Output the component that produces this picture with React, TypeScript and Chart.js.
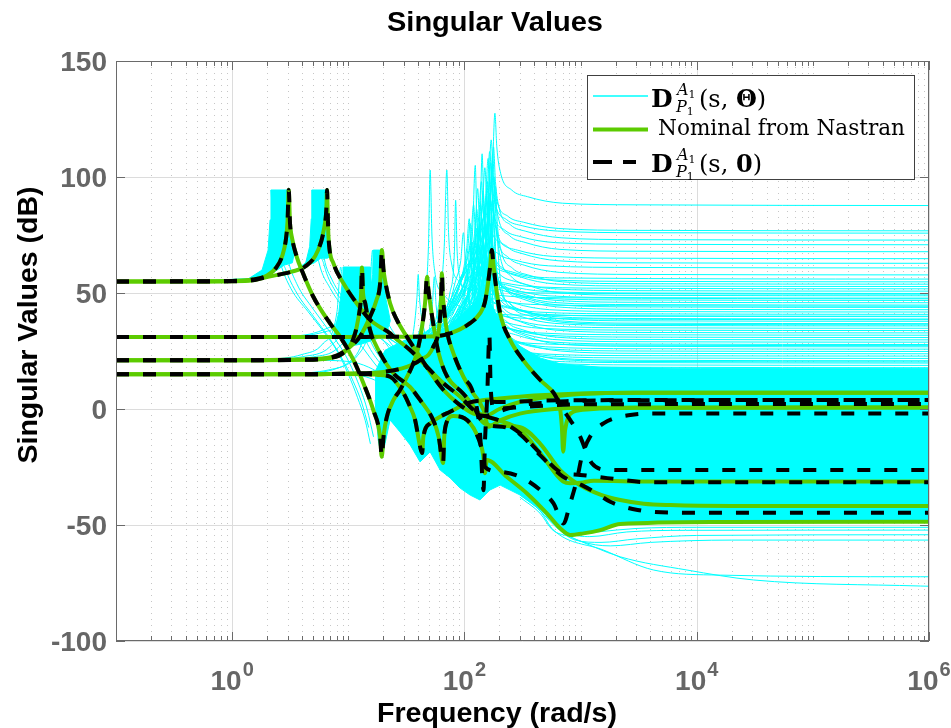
import React, { useEffect, useRef } from "react";
import { Chart, registerables } from "chart.js";

Chart.register(...registerables);

type Pt = [number, number];

// ---------------- axes, ticks, texts ----------------
const X_MIN = 0.1;
const X_MAX = 1e6;
const Y_MIN = -100;
const Y_MAX = 150;
const X_MAJOR_VALUES = [1, 100, 10000, 1000000];
const X_MAJOR_EXPONENTS = ["0", "2", "4", "6"];
const Y_TICK_VALUES = [-100, -50, 0, 50, 100, 150];
const Y_TICK_LABELS = ["-100", "-50", "0", "50", "100", "150"];
const TITLE = "Singular Values";
const X_TITLE = "Frequency (rad/s)";
const Y_TITLE = "Singular Values (dB)";
const LEGEND_NOMINAL = "Nominal from Nastran";

const X_MINOR_VALUES: number[] = [];
for (let e = -1; e <= 5; e++) {
  for (let m = 1; m <= 9; m++) {
    const v = m * Math.pow(10, e);
    if (v > X_MIN * 1.0001 && !X_MAJOR_VALUES.some((t) => Math.abs(t - v) / t < 1e-9)) X_MINOR_VALUES.push(v);
  }
}

// ---------------- nominal (green) and dashed (black) curves ----------------
const MODE1_LOW: Pt[] = [[0.1,55],[0.5,55],[1,55.2],[1.5,55.8],[2,57.5],[2.4,61],[2.7,66],[2.9,73],[3.0,81],[3.07,94.4],[3.15,80],[3.26,74.3],[3.6,65.6],[3.97,59.9],[5.0,48.4],[6.97,36.9],[8.5,31.2],[11.1,21.1],[13.5,11.1],[16.4,-0.4],[18.8,-12],[19.4,-20.6],[20.2,-11],[21.5,-3.3],[24.5,3.9],[27.9,8.2],[31,12.5],[35.3,18.2],[38.9,24],[43.2,35.5],[45.8,45.6],[47.7,57],[48.8,52],[50.7,45.6],[55,34],[60,24],[71,14],[97,6.8],[120,1],[140,-5]];
const MODE1_GREEN: Pt[] = [[165,-7],[230,-7.3],[302,-7.8],[450,-15],[667,-26.3],[1000,-33],[1500,-37],[2195,-39.2],[3500,-40.8],[5916,-41.4],[20000,-41.8],[1e6,-41.8]];
const MODE1_DASH: Pt[] = [[165,-7],[230,-8],[302,-11],[450,-20],[700,-29],[1026,-32.8],[1380,-36.4],[1800,-40],[2344,-42.1],[3100,-43.5],[4000,-44.3],[8000,-44.7],[1e6,-44.7]];

const MODE2_LOW: Pt[] = [[0.1,55],[1,55.1],[1.5,55.5],[2.04,57],[3.26,59.2],[4.22,61.3],[5.5,68.5],[6.2,78],[6.47,86],[6.56,94.4],[6.65,85],[6.75,74.3],[7.45,62.8],[9.08,54.2],[11.8,45.6],[15.4,38.4],[22.9,32.6],[24.5,31.2],[34,25.4],[47.4,18.2],[66,11.1],[92,5.3],[120,-0.4],[150,-3]];
const MODE2_GREEN: Pt[] = [[200,-5],[302,-9],[449,-19],[640,-29.2],[708,-31.3],[813,-32],[1000,-31.8],[1300,-30.9],[4000,-31.3],[1e6,-31.3]];
const MODE2_DASH: Pt[] = [[200,-5],[302,-10.5],[449,-19.1],[629,-26.3],[708,-27.7],[992,-28.4],[1700,-29.8],[4000,-31.6],[1e6,-31.6]];

const MODE3_LOW: Pt[] = [[0.1,31],[1,31],[5,31],[20,31.1],[50.7,31.2],[75.3,32.6],[112,37],[136,41.2],[150,46],[161,55.6],[167,62],[172,68.5],[178,62],[184,55.6],[203,41.2],[248,29.7],[320,21.1],[449,12.5],[585,7]];
const MODE3_GREEN: Pt[] = [[655,2.5],[690,-7.6],[708,-18.4],[736,-9],[787,-3.3],[869,-1.2],[1210,-0.1],[3000,0.5],[1e6,0.6]];
const MODE3_DASH: Pt[] = [[700,0],[813,-4.7],[992,-11.9],[1132,-19.1],[1250,-23.4],[1683,-26.2],[3000,-26.3],[1e6,-26.3]];

const MODE4_LOW: Pt[] = [[0.1,21],[1,21],[4,21.3],[7.45,22.5],[10.4,26.8],[12.6,31.2],[15.4,39.8],[17.5,47],[18.8,54.2],[19.5,68.5],[20.1,60],[20.7,55.6],[22.9,45.6],[26.2,38.4],[31.9,31.2],[41.5,22.5],[54,13.9],[66,8.2],[90,2],[120,-2],[150,-3]];
const MODE4_GREEN: Pt[] = [[200,0],[300,3],[600,5.5],[1000,6.5],[3000,7],[1e6,7]];
const MODE4_DASH: Pt[] = [[200,-1],[300,1.5],[600,3],[1000,3.6],[1e6,3.9]];

const MODE5_LOW: Pt[] = [[0.1,15],[1,15],[5,15],[10,15.3],[20,16],[31.9,18.2],[41.5,21.1],[54,26.9],[61.5,38.4],[63,48],[64,58.5],[65,50],[66,45.6],[70.5,34],[80.4,24],[98,13.9],[119,6.8]];
const MODE5_GREEN: Pt[] = [[146,-0.4],[161,-7.6],[200,-5],[300,-2],[600,0],[1000,0.5],[1e6,0.6]];
const MODE5_DASH: Pt[] = [[136,-10],[146,-35],[150,-15],[157,5],[164,32],[168,10],[180,0],[250,0.5],[500,1.5],[1000,2],[1e6,2.2]];

const MODE6_LOW: Pt[] = [[0.1,15],[1,15],[5,15],[10,15.1],[15,15],[18,14.7],[22.9,13.9],[29.9,6.8],[34,1],[37.6,-4.7],[41.5,-16.2],[43.2,-19],[44.3,-12],[50.7,-6.2],[61.8,-3.3],[75.3,-1.2],[105,2.4],[136,3.6]];
const MODE6_GREEN: Pt[] = [[200,4.5],[400,5.8],[1000,6.7],[3000,7],[1e6,7]];
const MODE6_DASH: Pt[] = [[200,3],[400,3.5],[1000,3.8],[1e6,3.9]];

const MODE7_LOW: Pt[] = [[0.1,21],[1,21],[4,21.2],[7,22],[9,24],[11,30],[12.3,40],[12.9,50],[13.1,61],[13.4,50],[13.97,45.7],[15.4,34],[18.8,24.1],[24.3,15.5],[34,9.5],[41.5,3.9],[53.7,-4.7],[60,-12],[65.5,-23.3],[67,-12],[70,-6],[80,-3],[100,-4],[125,-10],[145,-20]];
const MODE7_GREEN: Pt[] = [[150,-27.7],[156,-22],[231,-29.2],[344,-36.3],[513,-45],[667,-51.4],[813,-54.3],[1059,-53.6],[1476,-52.2],[2195,-49.6],[15850,-48.7],[1e6,-48.6]];
const MODE7_DASH: Pt[] = [[150,-25],[200,-27],[302,-29.2],[449,-34.9],[585,-40.7],[713,-49.3],[813,-40.7],[929,-30.6],[1026,-20.5],[1210,-11.9],[1575,-6.2],[2675,-2.6],[4850,-1.9],[1e6,-1.9]];

// ---------------- uncertain (cyan) family ----------------
const CYAN_AREA_PEAK1: Pt[] = [[1.29,55.2],[1.81,59.9],[2.04,68.5],[2.12,81.5],[2.16,94.4],[3.07,94.4],[3.2,80],[3.45,68],[3.3,63],[2.8,62],[2.3,59],[1.92,56.5],[1.29,55.2]];
const CYAN_AREA_PEAK2: Pt[] = [[3.5,59.8],[4.3,63],[4.65,70],[4.8,82],[4.85,94.4],[6.56,94.4],[6.8,76],[7.2,66],[6.6,65],[5.8,65],[5.1,63],[4.3,61.5],[3.5,59.8]];
const CYAN_AREA_PEAK34: Pt[] = [[7.5,32],[8.3,42],[8.9,55],[9.0,61.2],[15.4,61.2],[15.6,52],[16.2,58],[16.4,68.5],[19.5,68.5],[19.9,58],[21,48],[23,38],[21,32],[17,30],[13,28],[10,27],[7.5,32]];
const CYAN_AREA_MASS: Pt[] = [[17,15.9],[20.7,25.3],[25.3,27.6],[30.8,29.7],[41.5,31],[56,33],[75.3,36],[101,42],[136,48],[166,46],[203,38],[248,31],[302,27],[449,22],[667,19.5],[1476,18],[10700,17.5],[1e6,17.5],[1e6,-48.7],[15900,-48.7],[2195,-49.6],[1052,-53.4],[813,-54.3],[667,-51.3],[449,-43.5],[302,-37.1],[203,-32.8],[166,-34.9],[136,-39.2],[112,-37.1],[91.8,-34.1],[75.3,-29.7],[61.8,-26.3],[50.7,-18.5],[41.5,-22.8],[34.1,-15.5],[27.9,-9.9],[22.9,-4.7],[19.5,-21.1],[18.1,-13.4],[17,3.9]];

const CYAN_V1: Pt[] = [[0.1,21],[2,21.2],[5,22.5],[8,26],[10,33],[11.3,45],[11.8,61.2],[12.3,48],[13.5,38],[16,28],[22,18],[30,10],[40,2],[55,-8]];
const CYAN_V2: Pt[] = [[0.1,21],[2,21.3],[4,22.5],[7,27],[9,36],[10.1,50],[10.5,61.2],[11,48],[12.5,36],[15,27],[20,18],[28,9],[38,0],[45,-10]];
const CYAN_V3: Pt[] = [[0.1,21],[2,21.5],[4,23.5],[6,28],[8,42],[8.6,61.2],[9.2,46],[11,33],[14,25],[20,15],[30,5],[40,-5]];
const CYAN_V4: Pt[] = [[0.1,15],[3,15.3],[7,17],[10,20],[13,28],[15,42],[16.2,68.5],[17,52],[19,42],[23,33],[30,25],[40,17],[55,8],[70,0]];
const CYAN_V5: Pt[] = [[0.1,15],[4,15.5],[8,17.5],[12,23],[15,33],[17,50],[17.6,68.5],[18.5,52],[21,40],[26,31],[34,22],[45,14],[60,6]];
const CYAN_V6: Pt[] = [[0.1,31],[3,31.3],[6,33],[9,37],[12,46],[13.6,61.2],[14.5,50],[17,40],[22,30],[30,22],[45,12],[60,4]];
const CYAN_V7: Pt[] = [[0.1,31],[3,31.4],[6,34],[9,40],[11.5,52],[12.4,61.2],[13.3,50],[16,38],[22,27],[32,18],[45,8]];
const CYAN_V8: Pt[] = [[0.1,15],[10,15.5],[20,17.5],[30,22],[36,32],[39,48],[40,58],[41,48],[45,34],[52,24],[65,14],[85,6],[110,-2]];
const CYAN_V9: Pt[] = [[0.1,15],[10,15.3],[20,17],[35,21],[48,30],[53,45],[55,57],[57,45],[62,32],[72,22],[90,12],[120,3]];
const CYAN_V10: Pt[] = [[0.1,21],[5,21],[10,20.5],[15,18],[20,14],[25,8],[30,1],[35,-8],[38,-18]];
const CYAN_V11: Pt[] = [[0.1,15],[10,14.8],[16,13],[20,10],[25,5],[30,0],[34,-6],[36.5,-16],[37.5,-8],[42,-3],[55,0],[80,2]];
const CYAN_V12: Pt[] = [[4.9,94.4],[5.1,75],[5.6,63],[7,52],[9,44],[12,38],[16,33],[22,28],[30,22],[45,14],[60,8]];
const CYAN_V13: Pt[] = [[2.16,94.4],[2.3,75],[2.6,63],[3.2,52],[4.5,42],[6,34],[8,25],[10,15],[12,5],[14,-5],[15.5,-15]];
const CYAN_V14: Pt[] = [[2.6,94.4],[2.75,76],[3.0,65],[3.6,54],[5,43],[7,33],[9.5,23],[12,12],[14.5,0],[16.5,-12]];
const CYAN_V15: Pt[] = [[5.6,94.4],[5.8,76],[6.2,65],[7.2,56],[9,48],[12,40],[17,34],[25,29],[40,20],[60,10]];
const CYAN_V16: Pt[] = [[0.1,55],[1,55.3],[1.6,56.5],[2.0,60],[2.2,68],[2.35,94.4],[2.5,72],[2.9,60],[3.6,50],[5,40],[7,30],[9,21],[11,12],[13,3],[15,-8]];
const CYAN_V17: Pt[] = [[0.1,55],[2,56.8],[3.5,60],[4.6,66],[5.1,76],[5.3,94.4],[5.5,76],[6.2,62],[7.5,52],[10,44],[14,37],[20,32],[30,26],[45,18]];

const CYAN_R1: Pt[] = [[30,28],[60,34],[100,59],[155,79],[174,103],[183,127.5],[190,113],[205,101.6],[255,94.4],[350,91.5],[700,88.7],[3000,88],[1e6,87.7]];
const CYAN_R2: Pt[] = [[30,28],[60,34],[100,54],[145,72],[161,94],[170,116],[177,101],[190,90],[238,83],[323,80.5],[650,77.8],[3000,77],[1e6,76.8]];
const CYAN_R3: Pt[] = [[30,28],[60,36],[100,58],[140,73],[157,92],[165,111],[172,98],[185,88],[231,81.6],[314,79],[630,76.7],[3000,76],[1e6,75.8]];
const CYAN_R4: Pt[] = [[30,25],[60,31],[100,51],[151,69],[169,91],[178,113],[185,98],[199,86.6],[249,79.4],[338,76.6],[680,73.8],[3000,73],[1e6,72.8]];
const CYAN_R5: Pt[] = [[30,28],[60,38],[100,60],[136,74],[152,91],[160,108],[166,94],[179,83.6],[224,77],[304,74.3],[610,71.7],[3000,71],[1e6,70.8]];
const CYAN_R6: Pt[] = [[30,28],[60,34],[100,54],[149,70],[166,90],[175,110],[182,94],[196,82.3],[245,74.7],[333,71.8],[665,68.8],[3000,68],[1e6,67.8]];
const CYAN_R7: Pt[] = [[30,28],[60,37],[100,58],[128,70],[143,87],[150,104],[156,89],[168,78.3],[210,71.2],[285,68.5],[570,65.8],[3000,65],[1e6,64.8]];
const CYAN_R8: Pt[] = [[30,22],[60,28],[100,47],[143,64],[160,85],[168,106],[175,90],[188,77.6],[235,69.9],[319,66.9],[640,63.9],[3000,63],[1e6,62.8]];
const CYAN_R9: Pt[] = [[30,28],[60,38],[100,60],[119,68],[133,83],[140,98],[146,84],[157,73.6],[196,66.9],[266,64.3],[532,61.7],[3000,61],[1e6,60.8]];
const CYAN_R10: Pt[] = [[30,28],[60,34],[100,50],[146,66],[163,84],[172,103],[179,86],[193,73.3],[241,65.2],[327,62],[654,58.9],[3000,58],[1e6,57.8]];
const CYAN_R11: Pt[] = [[30,28],[60,35],[90,48],[110,62],[124,79],[130,95],[135,80],[146,68.6],[182,61.4],[247,58.6],[494,55.8],[3000,55],[1e6,54.8]];
const CYAN_R12: Pt[] = [[30,25],[60,31],[100,46],[134,62],[150,80],[158,98],[164,81],[177,68.3],[221,60.2],[300,57],[600,53.9],[3000,53],[1e6,52.8]];
const CYAN_R13: Pt[] = [[30,28],[60,36],[100,52],[123,63],[138,79],[145,94],[151,78],[162,65.6],[203,57.9],[276,54.9],[551,51.9],[3000,51],[1e6,50.8]];
const CYAN_R14: Pt[] = [[30,20],[60,26],[100,42],[153,60],[171,80],[180,100],[187,81],[202,66.3],[252,57.2],[342,53.6],[684,50],[3000,49],[1e6,48.8]];
const CYAN_R15: Pt[] = [[30,28],[60,38],[85,50],[102,61],[114,75],[120,88],[125,72.4],[134,61],[168,53.6],[228,50.7],[456,47.8],[3000,47],[1e6,46.8]];
const CYAN_R16: Pt[] = [[30,27],[60,33],[100,47],[132,60],[147,76],[155,92],[161,74],[174,61],[217,52.5],[295,49.2],[589,45.9],[3000,45],[1e6,44.8]];
const CYAN_R17: Pt[] = [[30,22],[60,28],[100,43],[140,58],[157,76],[165,93],[172,74],[185,60],[231,51],[314,47.5],[627,44],[3000,43],[1e6,42.8]];
const CYAN_R18: Pt[] = [[30,28],[60,37],[80,45],[94,56],[104.5,69],[110,82],[114,66.4],[123,55],[154,47.6],[209,44.7],[418,41.8],[3000,41],[1e6,40.8]];
const CYAN_R19: Pt[] = [[30,25],[60,31],[100,44],[126,56],[141,71],[148,86],[154,68],[166,55],[207,46.5],[281,43.2],[562,39.9],[3000,39],[1e6,38.8]];
const CYAN_R20: Pt[] = [[30,20],[60,26],[100,40],[149,55],[166,73],[175,90],[182,70],[196,55],[245,45.5],[333,41.8],[665,38],[3000,37],[1e6,36.8]];
const CYAN_R21: Pt[] = [[30,28],[60,34],[95,44],[115,54],[128,67],[135,80],[140,63],[151,50.3],[189,42.2],[257,39],[513,35.9],[3000,35],[1e6,34.8]];
const CYAN_R22: Pt[] = [[30,22],[60,28],[100,40],[136,52],[152,68],[160,84],[166,64.6],[179,50.3],[224,41.2],[304,37.6],[608,34],[3000,33],[1e6,32.8]];
const CYAN_R23: Pt[] = [[30,25],[60,31],[90,39],[106,49],[119,61],[125,75],[130,58],[140,46],[175,38],[238,35],[475,31.9],[3000,31],[1e6,30.8]];
const CYAN_R24: Pt[] = [[30,20],[60,26],[100,37],[128,48],[143,63],[150,78],[156,59.4],[168,45.7],[210,36.8],[285,33.4],[570,30],[3000,29],[1e6,28.8]];
const CYAN_R25: Pt[] = [[30,18],[60,24],[100,35],[145,48],[161,64],[170,80],[177,60],[190,45],[238,35.5],[323,31.8],[646,28],[3000,27],[1e6,26.8]];
const CYAN_R26: Pt[] = [[30,22],[60,28],[100,36],[119,45],[133,58],[140,70],[146,53],[157,40.3],[196,32.2],[266,29],[532,25.9],[3000,25],[1e6,24.8]];
const CYAN_R27: Pt[] = [[30,25],[60,31],[85,37],[100,45],[112,55],[118,65],[123,49],[132,37.3],[165,29.7],[224,26.8],[448,23.8],[3000,23],[1e6,22.8]];
const CYAN_R28: Pt[] = [[30,15],[60,21],[100,31],[132,41],[147,55],[155,68],[161,50],[174,37],[217,28.5],[295,25.2],[589,22],[3000,21],[1e6,20.8]];
const CYAN_R29: Pt[] = [[30,20],[60,26],[90,32],[110,40],[124,51],[130,62],[135,45.7],[146,33.6],[182,25.9],[247,22.9],[494,19.9],[3000,19],[1e6,18.8]];
const CYAN_R30: Pt[] = [[30,12],[60,18],[100,27],[138,38],[154,51],[162,64],[168,46],[181,33],[227,24.5],[308,21.2],[616,18],[3000,17],[1e6,16.8]];
const CYAN_R31: Pt[] = [[30,15],[60,21],[100,29],[123,36],[138,47],[145,58],[151,41.7],[162,29.6],[203,21.9],[276,18.9],[551,16],[3000,15],[1e6,14.8]];
const CYAN_R32: Pt[] = [[30,18],[60,24],[80,29],[92,35],[103,44],[108,52],[112,37.2],[121,26.3],[151,19.2],[205,16.5],[410,13.8],[3000,13],[1e6,12.8]];
const CYAN_E1: Pt[] = [[30,24],[60,30],[100,44],[117,55],[131,72],[138,88],[144,72.8],[155,61.6],[193,54.4],[262,51.6],[524,48.8],[3000,48],[1e6,47.8]];
const CYAN_E2: Pt[] = [[30,20],[60,26],[100,40],[143,55],[160,74],[168,90],[175,72.5],[188,59.6],[235,51.4],[319,48.1],[638,44.9],[3000,44],[1e6,43.8]];
const CYAN_E3: Pt[] = [[30,26],[60,32],[90,41],[109,50],[122,63],[128,78],[133,63.6],[143,52.9],[179,46.1],[243,43.4],[486,40.8],[3000,40],[1e6,39.8]];
const CYAN_E4: Pt[] = [[30,18],[60,24],[100,36],[134,48],[150,64],[158,80],[164,63.3],[177,51],[221,43],[300,40],[600,36.9],[3000,36],[1e6,35.8]];
const CYAN_E5: Pt[] = [[30,26],[60,31],[85,38],[95,45],[106,56],[112,70],[116,55.6],[125,45],[157,38.1],[213,35.4],[426,32.8],[3000,32],[1e6,31.8]];
const CYAN_E6: Pt[] = [[30,16],[60,22],[100,32],[123,42],[138,57],[145,72],[151,55.3],[162,43],[203,35],[276,32],[551,28.9],[3000,28],[1e6,27.8]];
const CYAN_E7: Pt[] = [[30,14],[60,20],[100,30],[150,42],[167,56],[176,70],[183,52.5],[197,39.6],[246,31.4],[334,28.1],[669,25],[3000,24],[1e6,23.8]];
const CYAN_E8: Pt[] = [[30,18],[60,23],[90,30],[104,38],[116,48],[122,60],[127,44.8],[137,33.6],[171,26.4],[232,23.6],[464,20.8],[3000,20],[1e6,19.8]];
const CYAN_E9: Pt[] = [[30,12],[60,18],[100,26],[128,34],[143,46],[150,60],[156,43.3],[168,31],[210,23],[285,20],[570,16.9],[3000,16],[1e6,15.8]];
const CYAN_E10: Pt[] = [[30,10],[60,16],[95,23],[115,30],[128,40],[135,52],[140,36.8],[151,25.6],[189,18.4],[257,15.6],[513,12.8],[3000,12],[1e6,11.8]];
const CYAN_E11: Pt[] = [[30,8],[60,14],[100,22],[146,32],[163,43],[172,55],[179,38.3],[193,26],[241,18],[327,15],[654,11.9],[3000,11],[1e6,10.8]];
const CYAN_F1: Pt[] = [[30,20],[60,26],[111,42.8],[157,61.8],[176,77],[185,96],[192,80],[207,68.3],[259,60.7],[352,57.8],[703,54.8],[3000,54],[1e6,53.8]];
const CYAN_F2: Pt[] = [[30,26],[60,32],[77,44],[109,59],[122,71],[128,86],[133,72.3],[143,62.2],[179,55.8],[243,53.2],[486,50.7],[3000,50],[1e6,49.8]];
const CYAN_F3: Pt[] = [[30,22],[60,28],[97,41.8],[138,58.3],[154,71.5],[162,88],[168,72],[181,60.3],[227,52.7],[308,49.8],[616,46.8],[3000,46],[1e6,45.8]];
const CYAN_F4: Pt[] = [[30,24],[60,30],[85,41.4],[121,55.9],[135,67.5],[142,82],[148,66.8],[159,55.6],[199,48.4],[270,45.6],[540,42.8],[3000,42],[1e6,41.8]];
const CYAN_F5: Pt[] = [[30,18],[60,24],[107,37.8],[151,54.3],[169,67.5],[178,84],[185,66.5],[199,53.6],[249,45.4],[338,42.1],[676,38.9],[3000,38],[1e6,37.8]];
const CYAN_F6: Pt[] = [[30,26],[60,32],[71,39.8],[100,51.3],[112,60.5],[118,72],[123,57.6],[132,46.9],[165,40.1],[224,37.4],[448,34.8],[3000,34],[1e6,33.8]];
const CYAN_F7: Pt[] = [[30,16],[60,22],[101,34],[143,49],[160,61],[168,76],[175,58.5],[188,45.6],[235,37.4],[319,34.1],[638,30.9],[3000,30],[1e6,29.8]];
const CYAN_F8: Pt[] = [[30,20],[60,26],[79,33.8],[112,45.3],[125,54.5],[132,66],[137,50.8],[148,39.6],[185,32.4],[251,29.6],[502,26.8],[3000,26],[1e6,25.8]];
const CYAN_F9: Pt[] = [[30,14],[60,20],[89,29],[126,41.5],[141,51.5],[148,64],[154,48],[166,36.3],[207,28.7],[281,25.8],[562,22.8],[3000,22],[1e6,21.8]];
const CYAN_F10: Pt[] = [[30,18],[60,24],[69,29.4],[98,38.9],[109,46.5],[115,56],[120,41.6],[129,30.9],[161,24.1],[219,21.4],[437,18.8],[3000,18],[1e6,17.8]];
const CYAN_F11: Pt[] = [[30,10],[60,16],[102,24.4],[145,36.4],[162,46],[170,58],[177,41.3],[190,29],[238,21],[323,18],[646,14.9],[3000,14],[1e6,13.8]];
const CYAN_F12: Pt[] = [[30,28],[60,34],[70,40],[95,56.6],[106,67],[112,80],[116,69.4],[125,61.5],[157,56.5],[213,54.5],[426,52.6],[3000,52],[1e6,51.8]];
const CYAN_F13: Pt[] = [[30,15],[60,21],[114,33.9],[162,49.7],[181,62.2],[190,78],[198,62.2],[213,50.6],[266,43.1],[361,40.2],[722,37.3],[3000,36.5],[1e6,36.3]];
const CYAN_F14: Pt[] = [[30,24],[60,30],[89,43.8],[100,51],[105,60],[109,47.7],[118,38.5],[147,32.7],[200,30.4],[399,28.2],[3000,27.5],[1e6,27.3]];
const CYAN_F15: Pt[] = [[30,10],[60,16],[109,25.6],[155,38.6],[173,49],[182,62],[189,46.2],[204,34.6],[255,27.1],[346,24.2],[692,21.3],[3000,20.5],[1e6,20.3]];
const CYAN_F16: Pt[] = [[30,28],[60,34],[70,40],[83,54.4],[93,64],[98,76],[102,64],[110,55.2],[137,49.5],[186,47.3],[372,45.1],[3000,44.5],[1e6,44.3]];
const CYAN_S1: Pt[] = [[20,22],[35,28],[45,45],[49,70],[50.7,103],[52.5,75],[56,58],[65,50],[85,45],[130,42],[300,40.5],[1e6,40]];
const CYAN_S2: Pt[] = [[25,20],[45,28],[60,45],[67,70],[70.5,103],[73,76],[78,62],[90,55],[120,51],[200,49],[500,48],[1e6,47.5]];
const CYAN_S3: Pt[] = [[30,26],[55,34],[75,50],[82,68],[84,90],[86.5,68],[92,56],[110,47],[160,42],[400,39],[1e6,38.5]];
const CYAN_S4: Pt[] = [[30,28],[70,40],[100,55],[117,75],[124,105],[128,80],[136,66],[160,56],[220,52],[500,50],[1e6,49.5]];
const CYAN_S5: Pt[] = [[30,25],[80,38],[120,58],[136,80],[142,110],[147,86],[156,72],[185,63],[260,59],[600,56.5],[1e6,56]];
const CYAN_L1: Pt[] = [[300,-38],[449,-45],[570,-52],[813,-55.1],[2195,-63.7],[8240,-69.4],[30900,-73.7],[841000,-76.3],[1e6,-76.4]];
const CYAN_L2: Pt[] = [[300,-37],[449,-44],[585,-52.2],[1575,-60.8],[4250,-69.4],[15900,-71.6],[841000,-72.3],[1e6,-72.3]];
const CYAN_L3: Pt[] = [[449,-44],[650,-52],[900,-56.5],[1500,-57.5],[3000,-56],[10000,-54.5],[1e6,-54.2]];
const CYAN_L4: Pt[] = [[500,-46],[700,-53],[1000,-57],[1800,-59],[4000,-57.5],[20000,-56.5],[1e6,-56.5]];
const CYAN_L5: Pt[] = [[600,-48],[900,-54],[1400,-53],[3000,-51.5],[10000,-51],[1e6,-51]];
const CYAN_L6: Pt[] = [[550,-47],[800,-53.5],[1200,-55],[2500,-53],[8000,-52.3],[1e6,-52.2]];

const CYAN_AREAS = [CYAN_AREA_MASS, CYAN_AREA_PEAK1, CYAN_AREA_PEAK2, CYAN_AREA_PEAK34];
const CYAN_LINES = [
  CYAN_V1, CYAN_V2, CYAN_V3, CYAN_V4, CYAN_V5, CYAN_V6, CYAN_V7, CYAN_V8, CYAN_V9, CYAN_V10, CYAN_V11, CYAN_V12, CYAN_V13, CYAN_V14, CYAN_V15, CYAN_V16, CYAN_V17,
  CYAN_R1, CYAN_R2, CYAN_R3, CYAN_R4, CYAN_R5, CYAN_R6, CYAN_R7, CYAN_R8, CYAN_R9, CYAN_R10, CYAN_R11, CYAN_R12, CYAN_R13, CYAN_R14, CYAN_R15, CYAN_R16,
  CYAN_R17, CYAN_R18, CYAN_R19, CYAN_R20, CYAN_R21, CYAN_R22, CYAN_R23, CYAN_R24, CYAN_R25, CYAN_R26, CYAN_R27, CYAN_R28, CYAN_R29, CYAN_R30, CYAN_R31, CYAN_R32,
  CYAN_E1, CYAN_E2, CYAN_E3, CYAN_E4, CYAN_E5, CYAN_E6, CYAN_E7, CYAN_E8, CYAN_E9, CYAN_E10, CYAN_E11,
  CYAN_F1, CYAN_F2, CYAN_F3, CYAN_F4, CYAN_F5, CYAN_F6, CYAN_F7, CYAN_F8, CYAN_F9, CYAN_F10, CYAN_F11, CYAN_F12, CYAN_F13, CYAN_F14, CYAN_F15, CYAN_F16,
  CYAN_S1, CYAN_S2, CYAN_S3, CYAN_S4, CYAN_S5,
  CYAN_L1, CYAN_L2, CYAN_L3, CYAN_L4, CYAN_L5, CYAN_L6,
];
const MODES = [
  { low: MODE1_LOW, green: MODE1_GREEN, dash: MODE1_DASH },
  { low: MODE2_LOW, green: MODE2_GREEN, dash: MODE2_DASH },
  { low: MODE3_LOW, green: MODE3_GREEN, dash: MODE3_DASH },
  { low: MODE4_LOW, green: MODE4_GREEN, dash: MODE4_DASH },
  { low: MODE5_LOW, green: MODE5_GREEN, dash: MODE5_DASH },
  { low: MODE6_LOW, green: MODE6_GREEN, dash: MODE6_DASH },
  { low: MODE7_LOW, green: MODE7_GREEN, dash: MODE7_DASH },
];

// ---------------- styles ----------------
const CYAN = "rgb(0,255,255)";
const GREEN = "#5ccb00";
const GRID_MAJOR = "#dcdcdc";
const GRID_MINOR = "#c6c6c6";
const AXIS_COLOR = "#6a6a6a";
const TICK_COLOR = "#666666";
const SANS = '"Liberation Sans", Arial, Helvetica, sans-serif';
const SERIF = '"DejaVu Serif", "Liberation Serif", serif';

function drawText(ctx: any, s: string, x: number, y: number, font: string, color: string, align = "left", targetWidth = 0) {
  ctx.save();
  ctx.font = font;
  ctx.fillStyle = color;
  ctx.textAlign = "left";
  ctx.textBaseline = "alphabetic";
  const w = ctx.measureText(s).width;
  const sx = targetWidth > 0 ? targetWidth / w : 1;
  const ww = w * sx;
  const x0 = align === "center" ? x - ww / 2 : align === "right" ? x - ww : x;
  ctx.translate(x0, y);
  ctx.scale(sx, 1);
  ctx.fillText(s, 0, 0);
  ctx.restore();
  return ww;
}

function seg(ctx: any, x1: number, y1: number, x2: number, y2: number) {
  ctx.beginPath();
  ctx.moveTo(x1, y1);
  ctx.lineTo(x2, y2);
  ctx.stroke();
}

function drawMathEntry(ctx: any, baseY: number, arg: string) {
  ctx.save();
  ctx.fillStyle = "#000";
  ctx.textAlign = "left";
  ctx.textBaseline = "alphabetic";
  ctx.font = `bold 25px ${SERIF}`;
  ctx.fillText("D", 651, baseY);
  ctx.font = `italic 16px ${SERIF}`;
  ctx.fillText("A", 677, baseY - 12);
  const wa = ctx.measureText("A").width;
  ctx.font = `11px ${SERIF}`;
  ctx.fillText("1", 677 + wa, baseY - 9);
  ctx.font = `italic 16px ${SERIF}`;
  ctx.fillText("P", 676, baseY + 5);
  const wp = ctx.measureText("P").width;
  ctx.font = `11px ${SERIF}`;
  ctx.fillText("1", 676 + wp, baseY + 8);
  let x = 699;
  ctx.font = `24px ${SERIF}`;
  ctx.fillText("(s, ", x, baseY);
  x += ctx.measureText("(s, ").width;
  ctx.font = `bold 24px ${SERIF}`;
  ctx.fillText(arg, x, baseY);
  x += ctx.measureText(arg).width;
  ctx.font = `24px ${SERIF}`;
  ctx.fillText(")", x, baseY);
  ctx.restore();
}

const matlabLook = {
  id: "matlabLook",
  beforeDraw(chart: any) {
    const { ctx, width, height } = chart;
    ctx.save();
    ctx.fillStyle = "#ffffff";
    ctx.fillRect(0, 0, width, height);
    ctx.restore();
  },
  beforeDatasetsDraw(chart: any) {
    const { ctx, chartArea: a } = chart;
    const xs = chart.scales.x;
    const ys = chart.scales.y;
    ctx.save();
    ctx.lineWidth = 1;
    ctx.strokeStyle = GRID_MINOR;
    ctx.setLineDash([1, 5]);
    for (const v of X_MINOR_VALUES) {
      const px = Math.round(xs.getPixelForValue(v)) + 0.5;
      seg(ctx, px, a.top, px, a.bottom);
    }
    ctx.setLineDash([]);
    ctx.strokeStyle = GRID_MAJOR;
    for (const v of X_MAJOR_VALUES) {
      const px = Math.round(xs.getPixelForValue(v)) + 0.5;
      seg(ctx, px, a.top, px, a.bottom);
    }
    for (const v of Y_TICK_VALUES) {
      const py = Math.round(ys.getPixelForValue(v)) + 0.5;
      seg(ctx, a.left, py, a.right, py);
    }
    ctx.restore();
  },
  afterDatasetsDraw(chart: any) {
    const { ctx, chartArea: a } = chart;
    const xs = chart.scales.x;
    const ys = chart.scales.y;
    ctx.save();
    ctx.strokeStyle = AXIS_COLOR;
    ctx.lineWidth = 1;
    ctx.strokeRect(a.left + 0.5, a.top + 0.5, a.right - a.left - 1, a.bottom - a.top - 1);
    for (const v of X_MINOR_VALUES) {
      const px = Math.round(xs.getPixelForValue(v)) + 0.5;
      seg(ctx, px, a.bottom, px, a.bottom - 5);
      seg(ctx, px, a.top, px, a.top + 5);
    }
    for (const v of X_MAJOR_VALUES) {
      const px = Math.round(xs.getPixelForValue(v)) + 0.5;
      seg(ctx, px, a.bottom, px, a.bottom - 9);
      seg(ctx, px, a.top, px, a.top + 9);
    }
    for (const v of Y_TICK_VALUES) {
      const py = Math.round(ys.getPixelForValue(v)) + 0.5;
      seg(ctx, a.left, py, a.left + 9, py);
      seg(ctx, a.right, py, a.right - 9, py);
    }
    ctx.restore();

    const tickFont = `bold 28px ${SANS}`;
    const supFont = `bold 20px ${SANS}`;
    Y_TICK_VALUES.forEach((v, i) => {
      const py = ys.getPixelForValue(v);
      drawText(ctx, Y_TICK_LABELS[i], 107, py + 10, tickFont, TICK_COLOR, "right");
    });
    X_MAJOR_VALUES.forEach((v, i) => {
      const px = xs.getPixelForValue(v);
      ctx.save();
      ctx.font = tickFont;
      const w1 = ctx.measureText("10").width;
      ctx.font = supFont;
      const w2 = ctx.measureText(X_MAJOR_EXPONENTS[i]).width;
      ctx.restore();
      const x0 = px - (w1 + 1 + w2) / 2;
      drawText(ctx, "10", x0, 690, tickFont, TICK_COLOR);
      drawText(ctx, X_MAJOR_EXPONENTS[i], x0 + w1 + 1, 676, supFont, TICK_COLOR);
    });

    drawText(ctx, TITLE, 495, 31, `bold 28px ${SANS}`, "#000", "center", 216);
    drawText(ctx, X_TITLE, 497, 722, `bold 28px ${SANS}`, "#000", "center", 240);
    ctx.save();
    ctx.translate(37, 325);
    ctx.rotate(-Math.PI / 2);
    drawText(ctx, Y_TITLE, 0, 0, `bold 28px ${SANS}`, "#000", "center", 277);
    ctx.restore();

    // legend
    ctx.save();
    ctx.fillStyle = "#ffffff";
    ctx.fillRect(587, 75, 328, 105);
    ctx.strokeStyle = "#404040";
    ctx.lineWidth = 1;
    ctx.strokeRect(587.5, 75.5, 327, 104);
    ctx.strokeStyle = CYAN;
    ctx.lineWidth = 1.5;
    seg(ctx, 593, 96, 648, 96);
    ctx.strokeStyle = GREEN;
    ctx.lineWidth = 4;
    seg(ctx, 593, 129.5, 648, 129.5);
    ctx.fillStyle = "#000";
    ctx.fillRect(593, 160, 19, 4);
    ctx.fillRect(623, 160, 13, 4);
    ctx.restore();
    drawMathEntry(ctx, 107, "\u0398");
    drawText(ctx, LEGEND_NOMINAL, 658, 135, `22px ${SERIF}`, "#000", "left", 247);
    drawMathEntry(ctx, 172, "0");
  },
};

const toXY = (pts: Pt[]) => pts.map(([x, y]) => ({ x, y }));

export default function App() {
  const ref = useRef<HTMLCanvasElement | null>(null);
  useEffect(() => {
    if (!ref.current) return;
    const datasets: any[] = [];
    for (const poly of CYAN_AREAS) {
      datasets.push({ data: toXY(poly), borderColor: CYAN, backgroundColor: CYAN, borderWidth: 1, borderJoinStyle: "round", fill: "shape", pointRadius: 0, tension: 0, order: 3 });
    }
    for (const l of CYAN_LINES) {
      datasets.push({ data: toXY(l), borderColor: CYAN, borderWidth: 1, fill: false, pointRadius: 0, cubicInterpolationMode: "monotone", order: 2 });
    }
    for (const m of MODES) {
      datasets.push({ data: toXY(m.low.concat(m.green)), borderColor: GREEN, borderWidth: 4, borderJoinStyle: "round", fill: false, pointRadius: 0, cubicInterpolationMode: "monotone", order: 1 });
    }
    for (const m of MODES) {
      datasets.push({ data: toXY(m.low.concat(m.dash)), borderColor: "#000000", borderWidth: 4, borderDash: [13, 14], borderJoinStyle: "round", fill: false, pointRadius: 0, cubicInterpolationMode: "monotone", order: 0 });
    }
    const chart = new Chart(ref.current, {
      type: "line",
      data: { datasets },
      options: {
        responsive: false,
        animation: false,
        devicePixelRatio: 1,
        events: [],
        layout: { padding: { left: 116, top: 61, right: 22, bottom: 87 } },
        plugins: { legend: { display: false }, tooltip: { enabled: false }, title: { display: false } },
        scales: {
          x: { type: "logarithmic", min: X_MIN, max: X_MAX, display: false },
          y: { type: "linear", min: Y_MIN, max: Y_MAX, display: false },
        },
      },
      plugins: [matlabLook],
    } as any);
    return () => chart.destroy();
  }, []);
  return (
    <div style={{ position: "absolute", left: 0, top: 0, width: 951, height: 728, background: "#fff" }}>
      <canvas ref={ref} width={951} height={728} style={{ display: "block" }} />
    </div>
  );
}
